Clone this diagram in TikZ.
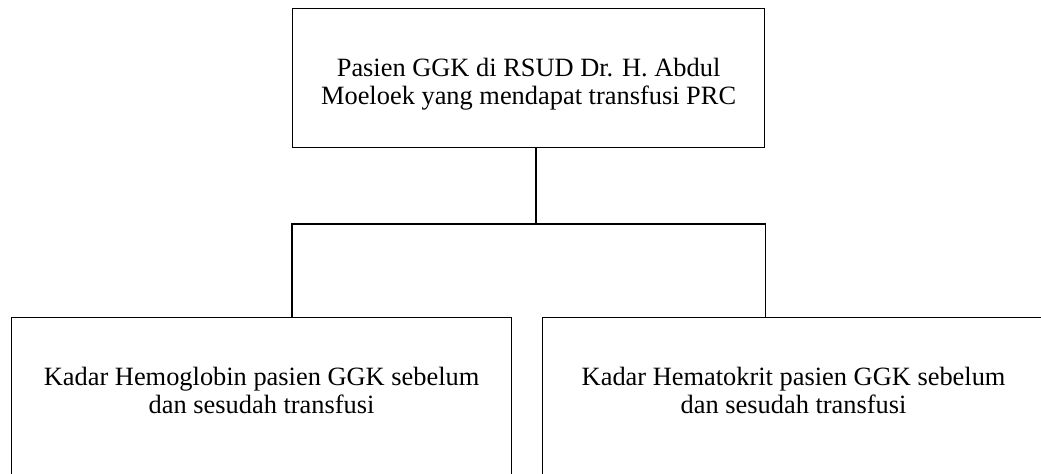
\documentclass[tikz,border=0pt]{standalone}
\usepackage{fontspec}
\setmainfont{Liberation Serif}
\usepackage{tikz}
\usetikzlibrary{positioning}
\tikzset{
  boxframe/.style={
    rectangle, draw=black, line width=0.6pt, inner sep=0pt
  },
  topbox/.style={boxframe, minimum width=236pt, minimum height=69.5pt},
  subbox/.style={boxframe, minimum width=#1, minimum height=95pt},
  subbox/.default=250pt,
  boxtext/.style={
    align=center, inner sep=0pt, font=\fontsize{13.2}{14}\selectfont
  },
  link/.style={line width=0.6pt, draw=black},
}
\begin{document}
\begin{tikzpicture}[x=0.5pt, y=-0.5pt]
  \useasboundingbox (0,0) rectangle (1041,474);
  \clip (0,0) rectangle (1041,474);

  % Population
  \node[topbox, anchor=north west] (pasien) at (292,8) {};
  \node[boxtext, below=25pt of pasien.north] (pasienlbl) {
    Pasien GGK di RSUD Dr. H. Abdul\\
    Moeloek yang mendapat transfusi PRC
  };

  % Outcomes
  \node[subbox=250pt, anchor=north west] (hb) at (11,317) {};
  \node[boxtext, below=25pt of hb.north] (hblbl) {
    Kadar Hemoglobin pasien GGK sebelum\\
    dan sesudah transfusi
  };
  \node[subbox=251pt, anchor=north west] (hct) at (542,317) {};
  \node[boxtext, below=25pt of hct.north] (hctlbl) {
    Kadar Hematokrit pasien GGK sebelum\\
    dan sesudah transfusi
  };

  % Lines
  \coordinate (bar) at (536,224);
  \draw[link] (bar |- pasien.south) -- (bar);
  \draw[link] (pasien.west |- hb.north) -- (pasien.west |- bar)
    -- (pasien.east |- bar) -- (pasien.east |- hct.north);

\end{tikzpicture}
\end{document}
